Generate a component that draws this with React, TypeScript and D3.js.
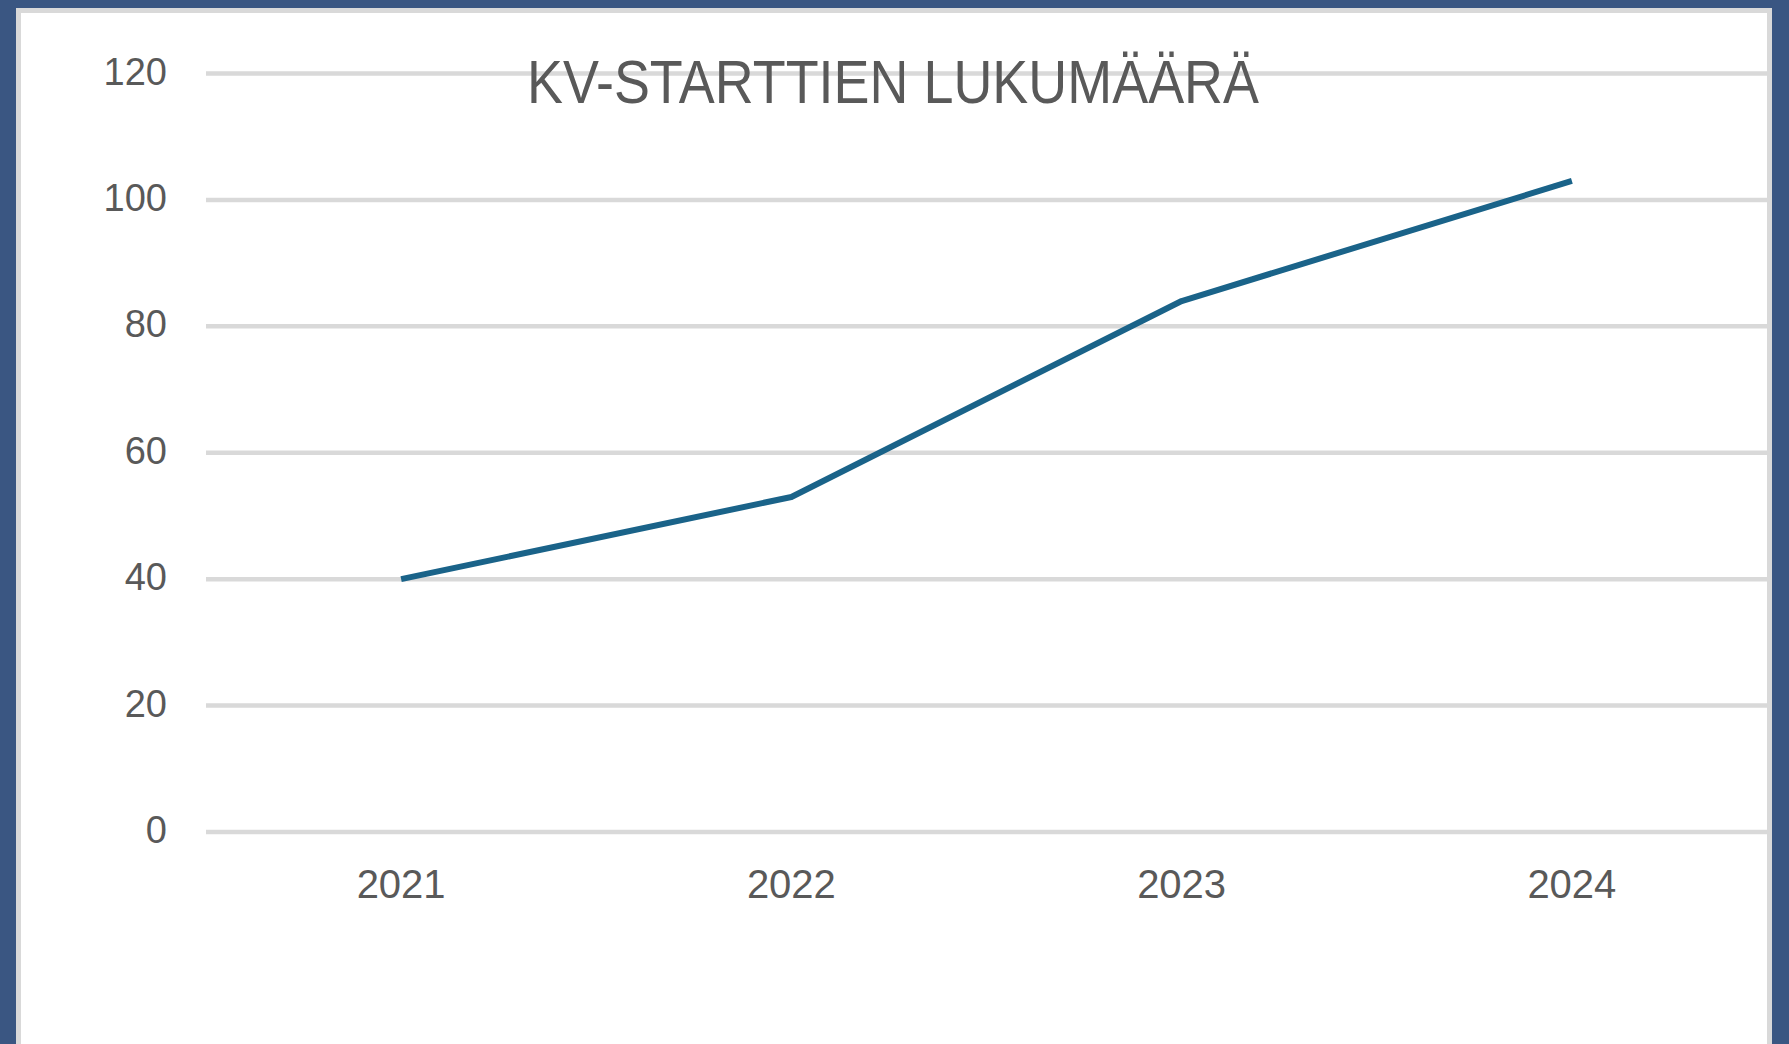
import React from "react";
import * as d3 from "d3";

const years = ["2021", "2022", "2023", "2024"];
const starts = [40, 53, 84, 103];
const yTicks = [0, 20, 40, 60, 80, 100, 120];
const title = "KV-STARTTIEN LUKUMÄÄRÄ";

const W = 1789;
const H = 1044;

export default function App() {
  const x = d3.scaleBand<string>().domain(years).range([206, 1767]).padding(0);
  const y = d3.scaleLinear().domain([0, 120]).range([832, 73.5]);
  const cx = (d: string) => (x(d) as number) + x.bandwidth() / 2;
  const line = d3
    .line<number>()
    .x((_, i) => cx(years[i]))
    .y((v) => y(v));
  const path = line(starts) || "";
  const font = "'Liberation Sans', Arial, sans-serif";

  return (
    <div style={{ position: "absolute", left: 0, top: 0, width: W, height: H }}>
      <svg width={W} height={H} viewBox={`0 0 ${W} ${H}`} style={{ display: "block" }}>
        <rect x={0} y={0} width={W} height={H} fill="#3a5682" />
        <rect x={16} y={8} width={1756} height={H} fill="#d9d9d9" />
        <rect x={21} y={13} width={1746} height={H} fill="#ffffff" />
        {yTicks.map((t) => (
          <g key={t}>
            <line x1={206} x2={1767} y1={y(t)} y2={y(t)} stroke="#d9d9d9" strokeWidth={4.5} />
            <text
              x={167}
              y={y(t) + 11}
              textAnchor="end"
              fontFamily={font}
              fontSize={38}
              fill="#595959"
            >
              {t}
            </text>
          </g>
        ))}
        {years.map((yr) => (
          <text
            key={yr}
            x={cx(yr)}
            y={898}
            textAnchor="middle"
            fontFamily={font}
            fontSize={40}
            fill="#595959"
          >
            {yr}
          </text>
        ))}
        <text
          x={527}
          y={103}
          fontFamily="'Liberation Sans Narrow', 'Liberation Sans', Arial, sans-serif"
          fontSize={62}
          fill="#595959"
          textLength={732}
          lengthAdjust="spacingAndGlyphs"
        >
          {title}
        </text>
        <path
          d={path}
          fill="none"
          stroke="#1a6389"
          strokeWidth={6}
          strokeLinejoin="round"
          strokeLinecap="butt"
        />
      </svg>
    </div>
  );
}
